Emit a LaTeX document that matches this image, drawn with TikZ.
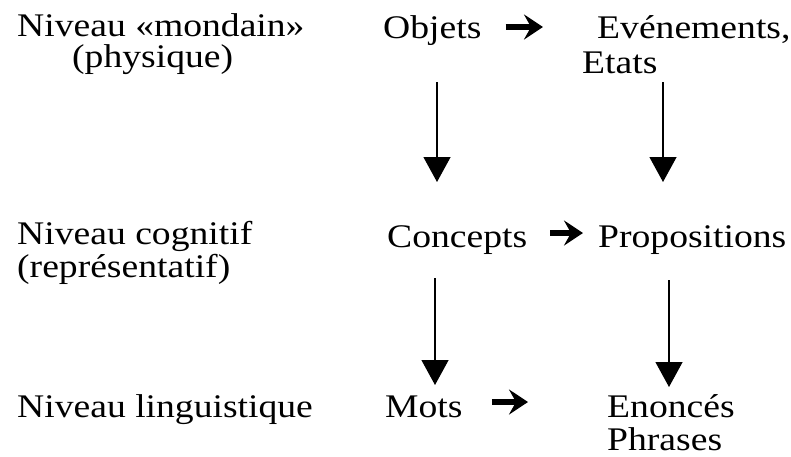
\documentclass[tikz,border=0pt]{standalone}
\usepackage{fontspec}
\setmainfont[FakeStretch=1.14]{Liberation Serif}
\usetikzlibrary{arrows.meta}
\begin{document}
\begin{tikzpicture}[x=1pt,y=-1pt,
  lbl/.style={anchor=base west, inner sep=0pt, font=\fontsize{33}{36}\selectfont},
  down/.style={line width=1.3pt, -{Triangle[width=27pt,length=25pt]}},
  heavy/.style={line width=6pt, -{Stealth[width=25pt,length=19pt,inset=7pt]}}]
\useasboundingbox (0,0) rectangle (791,456);
\node[lbl] (n1a) at (17,36) {Niveau «mondain»};
\node[lbl] (n1b) at (72,67) {(physique)};
\node[lbl] (n2a) at (17,244) {Niveau cognitif};
\node[lbl] (n2b) at (17,277) {(représentatif)};
\node[lbl] (n3) at (17,417) {Niveau linguistique};
\node[lbl] (obj) at (383,38) {Objets};
\node[lbl] (ev) at (597,38) {Evénements,};
\node[lbl] (et) at (582,73) {Etats};
\node[lbl] (con) at (387,247) {Concepts};
\node[lbl] (pro) at (598,247) {Propositions};
\node[lbl] (mot) at (385,417) {Mots};
\node[lbl] (eno) at (607,417) {Enoncés};
\node[lbl] (phr) at (607,450) {Phrases};
% horizontal heavy arrows
\draw[heavy] ([xshift=24pt,yshift=11pt]obj.base east) -- ([xshift=-54pt,yshift=11pt]ev.base west);
\draw[heavy] ([xshift=23pt,yshift=14pt]con.base east) -- ([xshift=-15pt,yshift=14pt]pro.base west);
\draw[heavy] ([xshift=29pt,yshift=15pt]mot.base east) -- ([xshift=-79pt,yshift=15pt]eno.base west);
% vertical arrows
\draw[down] ([xshift=54pt,yshift=-44pt]obj.base west) -- ([xshift=50pt,yshift=65pt]con.base west);
\draw[down] ([xshift=81pt,yshift=-9pt]et.base west) -- ([xshift=65pt,yshift=65pt]pro.base west);
\draw[down] ([xshift=48pt,yshift=-31pt]con.base west) -- ([xshift=50pt,yshift=32pt]mot.base west);
\draw[down] ([xshift=71pt,yshift=-33pt]pro.base west) -- ([xshift=62pt,yshift=30pt]eno.base west);
\end{tikzpicture}
\end{document}
